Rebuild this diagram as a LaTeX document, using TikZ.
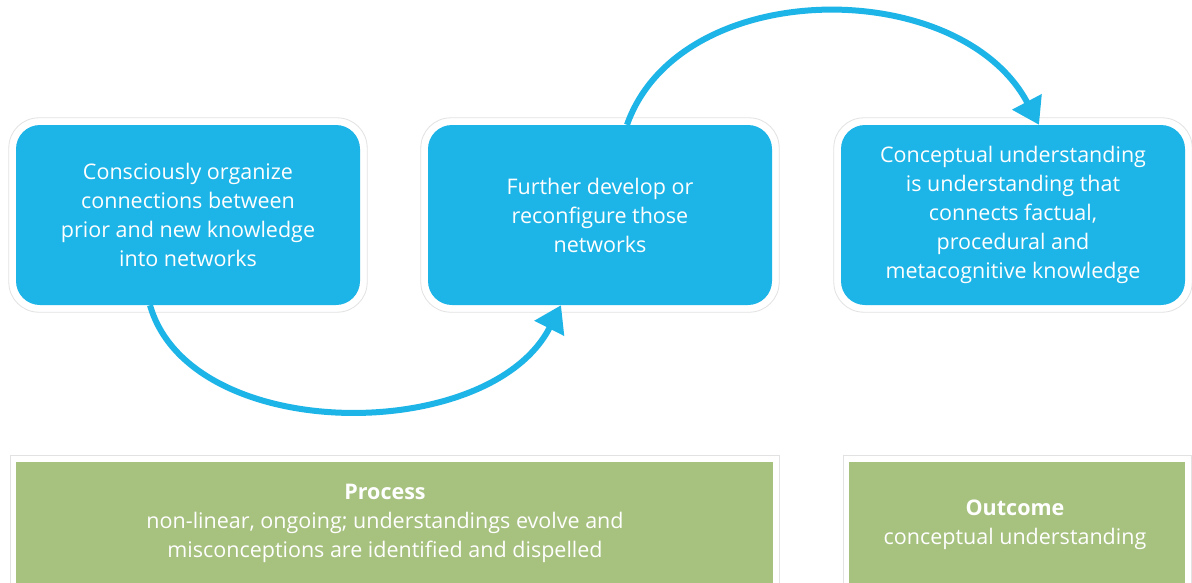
\documentclass[tikz,border=0pt]{standalone}
\usepackage{fontspec}
\setmainfont{Open Sans}
\usetikzlibrary{arrows.meta,calc}
\definecolor{cblue}{HTML}{1DB4E7}
\definecolor{cgreen}{HTML}{A7C17F}
\definecolor{frame}{HTML}{E2E2E2}
\begin{document}
\begin{tikzpicture}[x=1pt,y=-1pt,
  bluebox/.style={fill=cblue, rounded corners=24pt, minimum width=344pt, minimum height=180pt, text=white, align=center, font=\fontsize{21.5}{29}\selectfont, inner sep=0pt},
  greenbox/.style={fill=cgreen, inner sep=0pt, anchor=north west},
  label/.style={text=white, align=center, font=\fontsize{21.5}{29}\selectfont},
  flow/.style={draw=cblue, line width=6pt, -{Triangle[length=26pt,width=32pt]}},
  outline/.style={draw=frame, line width=0.8pt}]
\useasboundingbox (0,0) rectangle (1192,582);
\fill[white] (0,0) rectangle (1192,582);
% blue boxes
\node[bluebox] (b1) at (188,215) {Consciously organize\\connections between\\prior and new knowledge\\into networks};
\node[bluebox] (b2) at (600,215) {Further develop or\\reconfigure those\\networks};
\node[bluebox] (b3) at (1013,215) {Conceptual understanding\\is understanding that\\connects factual,\\procedural and\\metacognitive knowledge};
\foreach \b in {b1,b2,b3}
  \draw[outline, rounded corners=30pt] ($(\b.north west)+(-7,-7)$) rectangle ($(\b.south east)+(7,7)$);
% green boxes
\node[greenbox, minimum width=757pt, minimum height=130pt] (g1) at (16,462) {};
\node[greenbox, minimum width=336pt, minimum height=130pt] (g2) at (849,462) {};
\foreach \g in {g1,g2}
  \draw[outline] ($(\g.south west)+(-6,0)$) -- ($(\g.north west)+(-6,-7)$) -- ($(\g.north east)+(6,-7)$) -- ($(\g.south east)+(6,0)$);
\node[label] (t1) at (385,523) {\textbf{Process}\\non-linear, ongoing; understandings evolve and\\misconceptions are identified and dispelled};
\node[label] (t2) at (1015,525) {\textbf{Outcome}\\conceptual understanding};
% arrows
\draw[flow] ([xshift=-38pt]b1.south) .. controls (190,445) and (490,445) .. ([xshift=-39pt]b2.south);
\draw[flow] ([xshift=27pt]b2.north) .. controls (680,-25) and (960,-25) .. ([xshift=26pt]b3.north);
\end{tikzpicture}
\end{document}
